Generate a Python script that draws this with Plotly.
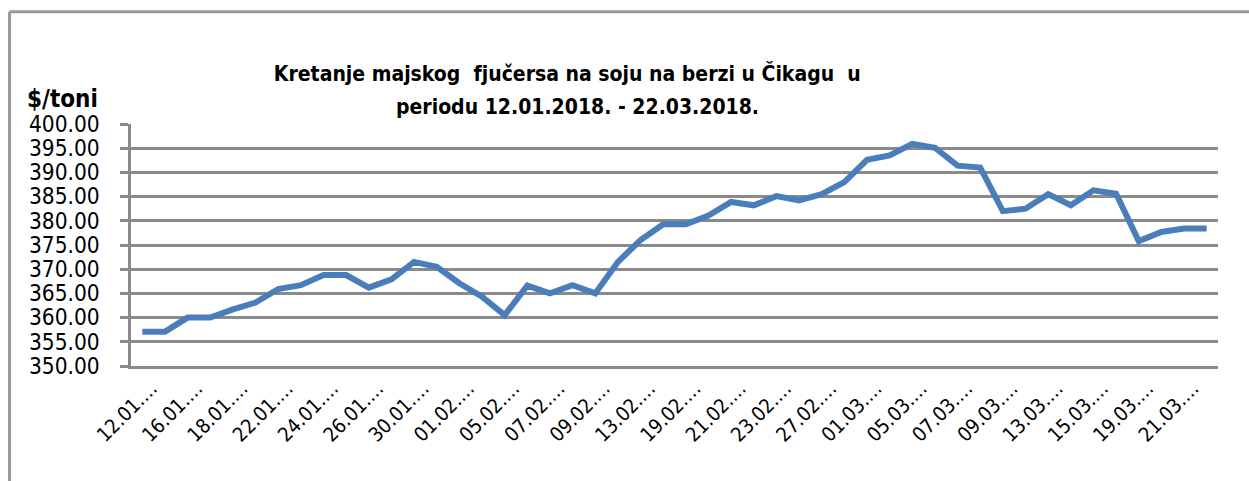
import plotly.graph_objects as go

dates = ["12.01.2018.", "15.01.2018.", "16.01.2018.", "17.01.2018.", "18.01.2018.", "19.01.2018.",
         "22.01.2018.", "23.01.2018.", "24.01.2018.", "25.01.2018.", "26.01.2018.", "29.01.2018.",
         "30.01.2018.", "31.01.2018.", "01.02.2018.", "02.02.2018.", "05.02.2018.", "06.02.2018.",
         "07.02.2018.", "08.02.2018.", "09.02.2018.", "12.02.2018.", "13.02.2018.", "15.02.2018.",
         "19.02.2018.", "20.02.2018.", "21.02.2018.", "22.02.2018.", "23.02.2018.", "26.02.2018.",
         "27.02.2018.", "28.02.2018.", "01.03.2018.", "02.03.2018.", "05.03.2018.", "06.03.2018.",
         "07.03.2018.", "08.03.2018.", "09.03.2018.", "12.03.2018.", "13.03.2018.", "14.03.2018.",
         "15.03.2018.", "16.03.2018.", "19.03.2018.", "20.03.2018.", "21.03.2018.", "22.03.2018."]

prices = [357.1, 357.1, 360.0, 360.0, 361.7, 363.1, 365.9, 366.7, 368.8, 368.8, 366.2, 367.9,
          371.5, 370.5, 367.1, 364.3, 360.5, 366.6, 365.0, 366.7, 365.0, 371.5, 376.0, 379.3,
          379.3, 381.1, 383.9, 383.2, 385.1, 384.2, 385.5, 388.0, 392.6, 393.5, 395.9, 395.1,
          391.4, 391.0, 382.0, 382.5, 385.5, 383.2, 386.3, 385.6, 375.8, 377.7, 378.4, 378.4]

tick_dates = dates[::2]
tick_labels = [d[:6] + "\u2026" for d in tick_dates]
y_ticks = [350, 355, 360, 365, 370, 375, 380, 385, 390, 395, 400]

title_line1 = "Kretanje majskog  fjučersa na soju na berzi u Čikagu  u"
title_line2 = "periodu 12.01.2018. - 22.03.2018."
y_title = "$/toni"

FONT = "DejaVu Sans Condensed, DejaVu Sans, sans-serif"
GRID = "#8a8a8a"

fig = go.Figure()
fig.add_trace(go.Scatter(
    x=dates, y=prices, mode="lines",
    line=dict(color="#4a7ebb", width=6, shape="linear"),
    showlegend=False, hoverinfo="x+y"))

L, R, T, B = 130.5, 1218.0, 123.5, 366.0
W, H = 1249, 481

def px_x(p):
    return (p - L) / (R - L)

def px_y(p):
    return (B - p) / (B - T)

fig.update_layout(
    width=W, height=H,
    margin=dict(l=L, r=W - R, t=T, b=H - B, pad=0),
    paper_bgcolor="white", plot_bgcolor="white",
    font=dict(family=FONT, color="#000000"),
    title=dict(text="<b>" + title_line1 + "</b>", x=px_x(567), xanchor="center",
               xref="paper", y=1 - 74.0 / H, yanchor="middle",
               font=dict(size=21, family=FONT, color="#000000")),
    xaxis=dict(
        type="category", tickmode="array", tickvals=tick_dates, ticktext=tick_labels,
        tickangle=-45, tickfont=dict(size=20, family=FONT, color="#000000"),
        showgrid=False, showline=True, linecolor=GRID, linewidth=2.5,
        ticks="", range=[-0.5, len(dates) - 0.5], zeroline=False,
        ticklabelstandoff=0, ticklabelshift=9),
    yaxis=dict(
        range=[350, 400], tickmode="array", tickvals=y_ticks,
        ticktext=[f"{v:.2f}" for v in y_ticks],
        tickfont=dict(size=22.5, family=FONT, color="#000000"),
        showgrid=True, gridcolor=GRID, gridwidth=2.5,
        showline=True, linecolor=GRID, linewidth=2.5,
        ticks="outside", ticklen=8, tickcolor=GRID, tickwidth=2.5,
        ticklabelstandoff=16, zeroline=False),
)

fig.add_annotation(text="<b>" + title_line2 + "</b>", xref="paper", yref="paper",
                   x=px_x(577), xanchor="center", y=px_y(106), yanchor="middle",
                   showarrow=False, font=dict(size=21, family=FONT, color="#000000"))

fig.add_annotation(text="<b>" + y_title + "</b>", xref="paper", yref="paper",
                   x=px_x(24), xanchor="left", y=px_y(98), yanchor="middle",
                   showarrow=False, font=dict(size=24, family=FONT, color="#000000"))

# outer chart frame (only top and left edges visible)
fig.add_shape(type="line", xref="paper", yref="paper",
              x0=px_x(9), x1=px_x(1260), y0=px_y(11), y1=px_y(11),
              line=dict(color="#999999", width=3))
fig.add_shape(type="line", xref="paper", yref="paper",
              x0=px_x(9), x1=px_x(9), y0=px_y(11), y1=px_y(490),
              line=dict(color="#999999", width=3))

fig.write_html("out.html", config={"displayModeBar": False},
               post_script="document.body.style.margin='0';document.body.style.overflow='hidden';")
